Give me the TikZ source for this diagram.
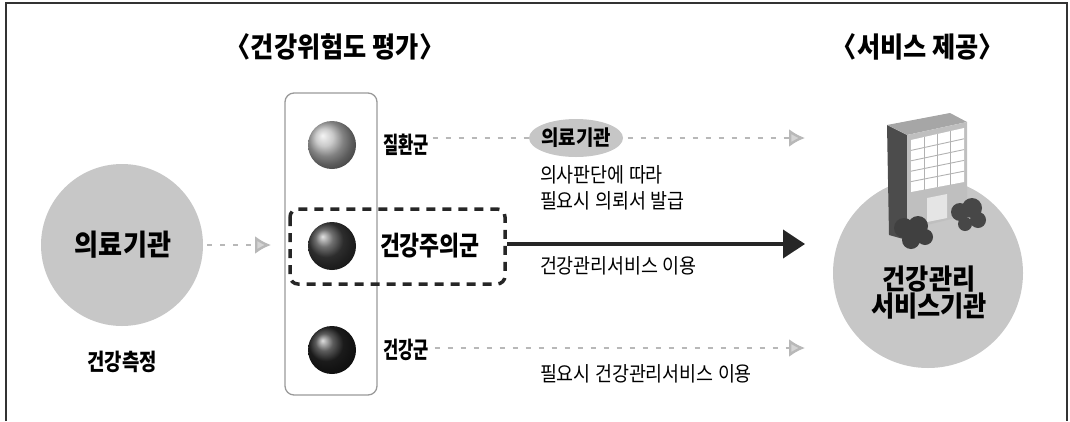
\documentclass[tikz,border=0pt]{standalone}
\usepackage{fontspec}
\setmainfont{Noto Sans CJK KR}
\newfontfamily\krn{Noto Sans CJK KR}
\newfontfamily\krs[FakeStretch=0.9]{Noto Sans CJK KR}
\newfontfamily\krc[FakeStretch=0.72]{Noto Sans CJK KR}
\newfontfamily\krm[FakeStretch=0.82]{Noto Sans CJK KR}
\usetikzlibrary{arrows.meta,shapes.geometric,calc}
\definecolor{disc}{gray}{0.78}
\definecolor{faint}{gray}{0.72}
\tikzset{
  x=1pt, y=-1pt,
  every node/.style={inner sep=0pt, outer sep=0pt},
  title/.style={font=\krs\fontsize{28}{30}\selectfont\bfseries},
  big/.style={font=\krs\fontsize{29}{31}\selectfont\bfseries},
  grplabel/.style={font=\krc\fontsize{23}{25}\selectfont\bfseries, anchor=west},
  note/.style={font=\krs\fontsize{20.5}{22}\selectfont, anchor=west},
  sphere/.style={circle, minimum size=48pt, shading=ball, ball color=#1},
  softarrow/.style={draw=faint, line width=2.4pt, dash pattern=on 5pt off 8pt,
    -{Latex[length=16pt,width=18pt,fill=faint!60]}},
  mainarrow/.style={draw=black!85, line width=4pt, -{Triangle[length=22pt,width=28pt]}},
}
\begin{document}
\begin{tikzpicture}
\useasboundingbox (0,0) rectangle (1070,421);
% outer frame, open at the bottom
\draw[line width=2pt, black!80] (6,421) -- (6,3) -- (1067,3) -- (1067,421);

% headings
\node[title] (h1) at (335,47) {〈건강위험도 평가〉};
\node[title] (h2) at (918,47) {〈서비스 제공〉};

% measuring institution
\node[circle, fill=disc, minimum size=162pt] (src) at (122,245) {};
\node[big] (srct) at (123,245) {의료기관};
\node[font=\krm\fontsize{23}{25}\selectfont\bfseries] (meas) at (122,362) {건강측정};

% risk groups
\node[draw=gray!80, line width=1.3pt, rounded corners=9pt, minimum width=92pt, minimum height=302pt] (grp) at (331,244) {};
\draw[softarrow] (src.east) ++(4,0) coordinate (a0) -- ([xshift=-14pt]grp.west |- a0) coordinate (a1);

\node[sphere=gray!55] (s1) at (332,145) {};
\node[sphere=gray!50!black] (s2) at (332,246) {};
\node[sphere=black!85] (s3) at (332,350) {};

\node[grplabel] (g1) at (383,145) {질환군};
\node[grplabel, font=\krm\fontsize{26.5}{28}\selectfont\bfseries] (g2) at (380,246) {건강주의군};
\node[grplabel] (g3) at (383,350) {건강군};

\draw[black!85, line width=3.5pt, dash pattern=on 9pt off 7pt, rounded corners=8pt]
  (290,209) rectangle (505,284);
\coordinate (boxe) at (507,244);

% service institution
\node[circle, fill=disc, minimum size=190pt] (svc) at (928,273) {};

% building: dark side, roof, front with window grid, entrance
\fill[black!70] (887,125) -- (907,135) -- (907,240) -- (889,235) -- cycle;
\fill[gray!70] (887,125) -- (950,113) -- (967,122) -- (907,135) -- cycle;
\fill[gray!50] (907,135) -- (967,122) -- (967,215) -- (907,230) -- cycle;
\fill[white] (911,140) -- (964,128) -- (964,182) -- (911,192) -- cycle;
\foreach \t in {0.25,0.5,0.75}
  \draw[gray!60, line width=0.9pt] ($(911,140)!\t!(964,128)$) -- ($(911,192)!\t!(964,182)$);
\foreach \t in {0.2,0.4,0.6,0.8}
  \draw[gray!60, line width=0.9pt] ($(911,140)!\t!(911,192)$) -- ($(964,128)!\t!(964,182)$);
\fill[white!80!gray] (927,198) -- (947,194) -- (947,218) -- (927,222) -- cycle;
% shrubs
\fill[black!75] (904,228) circle (10) (918,226) circle (10) (911,240) circle (9) (925,237) circle (8);
\fill[black!72] (960,212) circle (9) (972,208) circle (10) (978,220) circle (8) (965,224) circle (7);

\node[font=\krs\fontsize{28}{30}\selectfont\bfseries, align=center] (svct) at (929,293)
  {건강관리\\[-3pt]서비스기관};

% routes to service
\coordinate (t1) at (805,138);
\coordinate (t3) at (805,348);
\draw[softarrow] ([xshift=4pt]g1.east |- t1) -- (t1);
\node[ellipse, fill=gray!45, minimum width=94pt, minimum height=38pt] (hosp) at (576,138) {};
\node[font=\krs\fontsize{21}{23}\selectfont\bfseries] (hospt) at (576,138) {의료기관};
\node[note] (n1) at (540,175) {의사판단에 따라};
\node[note] (n2) at (540,201) {필요시 의뢰서 발급};

\draw[mainarrow] (boxe) -- (boxe -| t1);
\node[note] (n3) at (540,266) {건강관리서비스 이용};

\draw[softarrow] ([xshift=6pt]g3.east |- t3) -- (t3);
\node[note] (n4) at (540,374) {필요시 건강관리서비스 이용};
\end{tikzpicture}
\end{document}
